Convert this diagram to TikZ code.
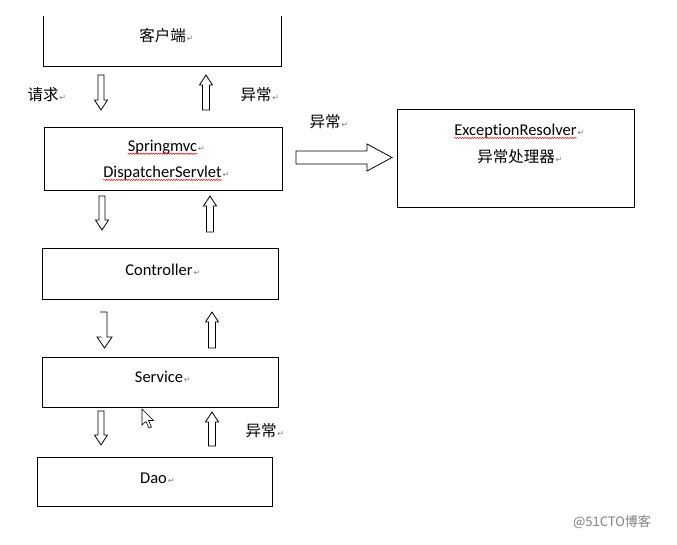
\documentclass[tikz,border=0pt]{standalone}
\usepackage{fontspec}
\setmainfont{Carlito}[Ligatures=NoCommon]
\newfontfamily\cjk{Noto Sans CJK SC}
\newfontfamily\symf{DejaVu Sans}
\usetikzlibrary{decorations.pathmorphing}
\newcommand\retmark{{\symf\fontsize{8}{8}\selectfont\color{gray}↵}}
\tikzset{
  box/.style={draw, line width=0.9pt, inner sep=0pt},
  txt/.style={inner sep=0pt, font=\fontsize{16.5}{18}\selectfont},
  ctxt/.style={inner sep=0pt, font=\cjk\fontsize{15.5}{18}\selectfont},
  arr/.style={draw, line width=0.8pt, fill=white, line join=miter},
  squig/.style={draw=red, line width=0.5pt, decorate, decoration={snake, amplitude=0.6pt, segment length=2.5pt}},
}
\newcommand\blkdown[3]{\draw[arr] ({#1-3},#2) -- ({#1+3},#2) -- ({#1+3},{#3-10}) -- ({#1+6.5},{#3-10}) -- (#1,#3) -- ({#1-6.5},{#3-10}) -- ({#1-3},{#3-10}) -- cycle;}
\newcommand\blkup[3]{\draw[arr] ({#1-3.5},#3) -- ({#1+3.5},#3) -- ({#1+3.5},{#2+10}) -- ({#1+6.5},{#2+10}) -- (#1,#2) -- ({#1-6.5},{#2+10}) -- ({#1-3.5},{#2+10}) -- cycle;}
\begin{document}
\begin{tikzpicture}[x=1pt, y=-1pt]
\useasboundingbox[fill=white] (0,0) rectangle (677,544);

% boxes
\node[inner sep=0pt, minimum width=237pt, minimum height=50pt] (client) at (162.5,41) {};
\draw[line width=0.9pt] (client.north west) -- (client.south west) -- (client.south east) -- (client.north east);
\node[box, minimum width=238pt, minimum height=63pt] (spring) at (163,158.5) {};
\node[box, minimum width=237pt, minimum height=98pt] (exc) at (515.5,158) {};
\node[box, minimum width=236pt, minimum height=51pt] (ctrl) at (160,273.5) {};
\node[box, minimum width=236pt, minimum height=50pt] (serv) at (160,382) {};
\node[box, minimum width=235pt, minimum height=49pt] (dao) at (154.5,481.5) {};

% texts
\node[ctxt] (tclient) at (162.5,36) {客户端};
\node[anchor=base west, inner sep=0pt, xshift=0.5pt] at (tclient.base east) {\retmark};
\node[txt] (tsm) at (162.5,147) {Springmvc};
\node[anchor=base west, inner sep=0pt, xshift=0.5pt] at (tsm.base east) {\retmark};
\draw[squig] ([yshift=-2.5pt]tsm.base west) -- ([yshift=-2.5pt]tsm.base east);
\node[txt] (tds) at (162.5,173) {DispatcherServlet};
\node[anchor=base west, inner sep=0pt, xshift=0.5pt] at (tds.base east) {\retmark};
\draw[squig] ([yshift=-2.5pt]tds.base west) -- ([yshift=-2.5pt]tds.base east);
\node[txt] (ter) at (515.5,131) {ExceptionResolver};
\node[anchor=base west, inner sep=0pt, xshift=0.5pt] at (ter.base east) {\retmark};
\draw[squig] ([yshift=-2.5pt]ter.base west) -- ([yshift=-2.5pt]ter.base east);
\node[ctxt] (tyc) at (516,157) {异常处理器};
\node[anchor=base west, inner sep=0pt, xshift=0.5pt] at (tyc.base east) {\retmark};
\node[txt] (tctrl) at (159,270) {Controller};
\node[anchor=base west, inner sep=0pt, xshift=0.5pt] at (tctrl.base east) {\retmark};
\node[txt] (tserv) at (159,377) {Service};
\node[anchor=base west, inner sep=0pt, xshift=0.5pt] at (tserv.base east) {\retmark};
\node[txt] (tdao) at (153.5,478) {Dao};
\node[anchor=base west, inner sep=0pt, xshift=0.5pt] at (tdao.base east) {\retmark};

% side labels
\node[ctxt] (lreq) at (43,95) {请求};
\node[anchor=base west, inner sep=0pt, xshift=0.5pt] at (lreq.base east) {\retmark};
\node[ctxt] (lex1) at (256,95) {异常};
\node[anchor=base west, inner sep=0pt, xshift=0.5pt] at (lex1.base east) {\retmark};
\node[ctxt] (lex2) at (325,122) {异常};
\node[anchor=base west, inner sep=0pt, xshift=0.5pt] at (lex2.base east) {\retmark};
\node[ctxt] (lex3) at (261,431) {异常};
\node[anchor=base west, inner sep=0pt, xshift=0.5pt] at (lex3.base east) {\retmark};

% block arrows
\blkdown{101}{75}{110}
\blkup{206}{75}{110}
\blkdown{102}{196}{230}
\blkup{210}{196}{232}
\draw[line width=0.8pt, line join=miter] (100,312) -- (107,312) -- (107,337) -- (112,337) -- (104.5,348) -- (97,337) -- (101.5,337);
\blkup{212}{312}{348}
\blkdown{101}{411}{445}
\blkup{212}{412}{446}
% big right arrow
\draw[arr] (296,151) -- (367,151) -- (367,144) -- (392,157.5) -- (367,171) -- (367,164) -- (296,164) -- cycle;

% mouse cursor
\draw[fill=white, line width=0.6pt, line join=miter] (142,409) -- (142,425) -- (146,421.5) -- (149,428) -- (151.5,427) -- (148.5,420.5) -- (153.5,420.5) -- cycle;

% watermark
\node[inner sep=0pt, font=\cjk\fontsize{13}{14}\selectfont, text=black!50] (wm) at (612,522) {@51CTO博客};
\end{tikzpicture}
\end{document}
